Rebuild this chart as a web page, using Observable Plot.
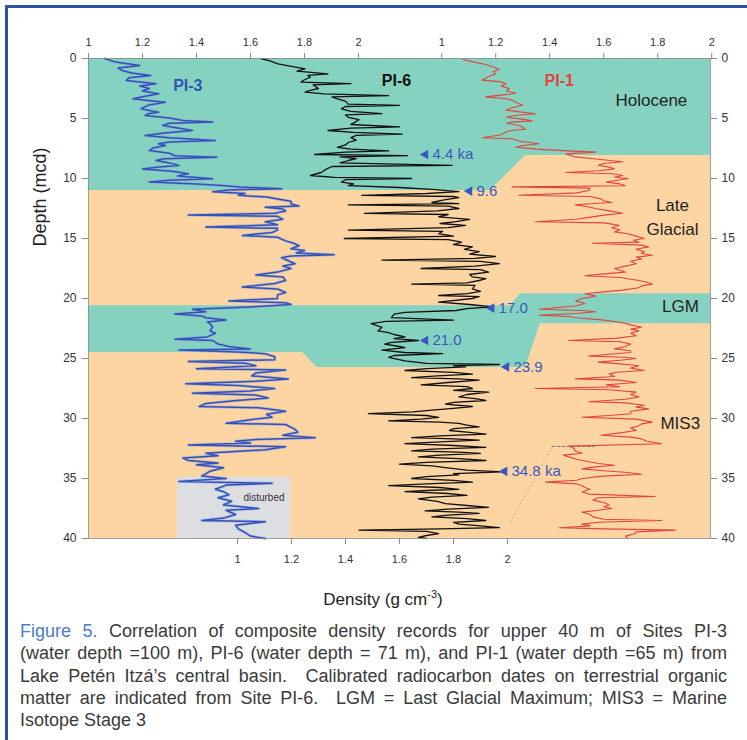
<!DOCTYPE html>
<html><head><meta charset="utf-8">
<script src="https://cdn.jsdelivr.net/npm/d3@7"></script>
<script src="https://cdn.jsdelivr.net/npm/@observablehq/plot@0.6"></script>
<style>
html,body{margin:0;padding:0;background:#fff;}
body{width:747px;height:740px;overflow:hidden;position:relative;font-family:"Liberation Sans",Arial,sans-serif;}
#border{position:absolute;left:5px;top:5px;width:900px;height:900px;border-left:3px solid #2c52a4;border-top:3px solid #2c52a4;}
#chart{position:absolute;left:0;top:0;}
#xlabel{position:absolute;left:0;width:766px;top:588px;text-align:center;font-family:"Liberation Sans",Arial,sans-serif;font-size:17px;color:#222;}
#xlabel sup{font-size:11px;}
#cap{position:absolute;left:20px;top:620px;width:707px;font-family:"Liberation Sans",Arial,sans-serif;font-size:18px;line-height:22.3px;color:#3a3a3a;}
#cap .j{text-align:justify;text-align-last:justify;}
#cap .fig{color:#4a7ccc;}
</style></head>
<body>
<div id="border"></div>
<div id="chart"></div>
<div id="xlabel">Density (g cm<sup>-3</sup>)</div>
<div id="cap">
<div class="j"><span class="fig">Figure 5.</span> Correlation of composite density records for upper 40 m of Sites PI-3</div>
<div class="j">(water depth =100 m), PI-6 (water depth = 71 m), and PI-1 (water depth =65 m) from</div>
<div class="j">Lake Petén Itzá’s central basin.&nbsp; Calibrated radiocarbon dates on terrestrial organic</div>
<div class="j">matter are indicated from Site PI-6.&nbsp; LGM = Last Glacial Maximum; MIS3 = Marine</div>
<div>Isotope Stage 3</div>
</div>
<script>
// ---------- data: [depth (mcd), density (g cm-3)] ----------
const pi3 = [[0.0,1.06],[0.3,1.10],[0.58,1.19],[0.8,1.11],[1.0,1.125],[1.2,1.16],[1.42,1.23],[1.6,1.15],[1.83,1.14],[2.1,1.25],[2.3,1.19],[2.5,1.225],[2.7,1.20],[2.94,1.26],[3.15,1.21],[3.36,1.165],[3.5,1.22],[3.64,1.285],[3.9,1.22],[4.19,1.195],[4.35,1.23],[4.47,1.26],[4.6,1.22],[4.75,1.21],[4.95,1.30],[5.17,1.35],[5.3,1.46],[5.4,1.30],[5.58,1.275],[5.8,1.33],[6.0,1.385],[6.2,1.28],[6.42,1.21],[6.6,1.30],[6.83,1.47],[6.95,1.30],[7.1,1.26],[7.25,1.285],[7.45,1.24],[7.67,1.225],[7.9,1.30],[8.1,1.32],[8.22,1.475],[8.35,1.28],[8.5,1.25],[8.7,1.30],[8.92,1.335],[9.05,1.26],[9.2,1.20],[9.4,1.31],[9.6,1.37],[9.8,1.33],[10.03,1.46],[10.15,1.30],[10.3,1.225],[10.45,1.40],[10.58,1.495],[10.7,1.56],[10.86,1.715],[10.95,1.52],[11.1,1.46],[11.25,1.58],[11.4,1.555],[11.55,1.66],[11.7,1.70],[11.9,1.75],[12.1,1.75],[12.3,1.78],[12.4,1.655],[12.55,1.72],[12.7,1.73],[12.9,1.69],[13.05,1.37],[13.15,1.70],[13.4,1.72],[13.6,1.655],[13.85,1.70],[14.05,1.435],[14.15,1.70],[14.3,1.70],[14.5,1.68],[14.75,1.57],[14.9,1.70],[15.2,1.73],[15.4,1.76],[15.6,1.78],[15.85,1.75],[16.0,1.80],[16.2,1.77],[16.35,1.91],[16.45,1.75],[16.6,1.715],[16.85,1.74],[17.1,1.765],[17.3,1.72],[17.5,1.75],[17.8,1.70],[18.05,1.62],[18.2,1.72],[18.5,1.73],[18.75,1.69],[19.05,1.57],[19.2,1.70],[19.5,1.73],[19.7,1.70],[20.0,1.70],[20.2,1.52],[20.35,1.73],[20.5,1.75],[20.7,1.60],[20.9,1.385],[21.1,1.435],[21.3,1.32],[21.45,1.42],[21.6,1.435],[21.8,1.51],[21.95,1.44],[22.1,1.45],[22.4,1.46],[22.7,1.45],[22.9,1.47],[23.2,1.44],[23.4,1.32],[23.5,1.46],[23.8,1.48],[24.0,1.52],[24.2,1.60],[24.3,1.335],[24.45,1.55],[24.6,1.655],[24.85,1.69],[25.1,1.69],[25.25,1.37],[25.4,1.58],[25.6,1.62],[25.85,1.40],[25.95,1.73],[26.2,1.62],[26.45,1.605],[26.7,1.74],[26.9,1.62],[27.1,1.36],[27.25,1.555],[27.5,1.69],[27.7,1.60],[27.9,1.385],[28.05,1.62],[28.3,1.665],[28.5,1.55],[28.75,1.435],[29.0,1.41],[29.1,1.63],[29.4,1.73],[29.65,1.66],[29.9,1.68],[30.1,1.60],[30.4,1.51],[30.5,1.73],[30.9,1.765],[31.15,1.775],[31.4,1.72],[31.6,1.84],[31.75,1.62],[31.9,1.545],[32.05,1.60],[32.2,1.37],[32.35,1.73],[32.6,1.655],[32.9,1.435],[33.1,1.48],[33.3,1.35],[33.5,1.37],[33.7,1.48],[33.85,1.40],[34.1,1.50],[34.4,1.45],[34.8,1.42],[35.0,1.51],[35.25,1.335],[35.4,1.68],[35.55,1.51],[35.9,1.47],[36.1,1.50],[36.35,1.52],[36.6,1.48],[36.9,1.53],[37.2,1.50],[37.5,1.63],[37.65,1.51],[38.0,1.545],[38.3,1.50],[38.5,1.42],[38.6,1.655],[38.9,1.545],[39.2,1.555],[39.5,1.58],[39.8,1.60],[40.0,1.655]];

const pi6 = [[0.0,1.086],[0.2,1.12],[0.44,1.15],[0.65,1.20],[0.86,1.25],[1.05,1.22],[1.28,1.335],[1.4,1.26],[1.56,1.27],[1.75,1.25],[1.97,1.235],[2.1,1.42],[2.2,1.28],[2.5,1.30],[2.65,1.27],[2.8,1.25],[2.95,1.32],[3.1,1.56],[3.2,1.35],[3.36,1.37],[3.55,1.40],[3.8,1.41],[3.9,1.60],[4.0,1.40],[4.2,1.385],[4.4,1.42],[4.6,1.535],[4.7,1.40],[4.9,1.41],[5.1,1.45],[5.3,1.435],[5.5,1.42],[5.7,1.60],[5.8,1.42],[6.0,1.335],[6.15,1.43],[6.3,1.61],[6.4,1.44],[6.6,1.42],[6.8,1.44],[7.0,1.41],[7.2,1.40],[7.4,1.37],[7.55,1.42],[7.7,1.56],[7.8,1.40],[8.0,1.285],[8.1,1.63],[8.2,1.38],[8.35,1.44],[8.5,1.41],[8.7,1.38],[8.9,1.795],[9.0,1.35],[9.2,1.33],[9.5,1.31],[9.75,1.27],[9.9,1.36],[10.0,1.645],[10.1,1.40],[10.3,1.385],[10.45,1.43],[10.6,1.41],[10.75,1.60],[10.9,1.72],[11.1,1.82],[11.25,1.70],[11.4,1.46],[11.5,1.80],[11.6,1.82],[11.8,1.76],[12.0,1.72],[12.1,1.82],[12.2,1.41],[12.3,1.78],[12.5,1.82],[12.7,1.74],[12.9,1.47],[13.0,1.78],[13.2,1.745],[13.4,1.86],[13.6,1.81],[13.75,1.75],[13.9,1.845],[14.1,1.78],[14.3,1.41],[14.4,1.76],[14.6,1.745],[14.8,1.80],[15.0,1.395],[15.1,1.78],[15.3,1.83],[15.5,1.80],[15.7,1.87],[15.9,1.84],[16.1,1.895],[16.3,1.86],[16.5,1.955],[16.65,1.88],[16.8,1.535],[16.9,1.90],[17.1,1.97],[17.3,1.88],[17.5,1.68],[17.6,1.90],[17.8,1.93],[18.0,1.86],[18.2,1.87],[18.35,1.92],[18.5,1.895],[18.7,1.85],[18.8,1.645],[18.9,1.88],[19.2,1.87],[19.4,1.90],[19.6,1.85],[19.75,1.745],[19.85,1.895],[20.0,1.87],[20.3,1.745],[20.5,1.86],[20.7,1.945],[20.85,1.85],[21.0,1.81],[21.15,1.62],[21.3,1.58],[21.6,1.57],[21.8,1.80],[21.9,1.55],[22.1,1.495],[22.4,1.535],[22.7,1.52],[22.85,1.56],[23.0,1.58],[23.2,1.62],[23.35,1.58],[23.5,1.67],[23.65,1.57],[23.8,1.545],[24.0,1.60],[24.1,1.62],[24.3,1.535],[24.5,1.62],[24.6,1.76],[24.75,1.58],[24.9,1.56],[25.2,1.62],[25.4,1.70],[25.5,1.97],[25.6,1.80],[25.7,1.845],[25.85,1.70],[26.0,1.62],[26.15,1.80],[26.3,1.87],[26.45,1.74],[26.6,1.645],[26.7,1.82],[26.8,1.895],[27.0,1.78],[27.2,1.68],[27.35,1.85],[27.5,1.87],[27.65,1.80],[27.8,1.93],[28.0,1.85],[28.2,1.82],[28.35,1.88],[28.5,1.92],[28.65,1.80],[28.8,1.77],[29.0,1.87],[29.15,1.80],[29.3,1.72],[29.45,1.65],[29.6,1.485],[29.75,1.70],[29.9,1.745],[30.05,1.68],[30.2,1.56],[30.3,1.75],[30.4,1.82],[30.55,1.85],[30.7,1.895],[30.85,1.80],[31.0,1.785],[31.15,1.86],[31.3,1.92],[31.45,1.75],[31.6,1.645],[31.7,1.80],[31.8,1.895],[31.95,1.75],[32.1,1.62],[32.25,1.80],[32.4,1.92],[32.55,1.72],[32.7,1.645],[32.8,1.82],[32.9,1.90],[33.05,1.75],[33.2,1.67],[33.35,1.82],[33.5,1.92],[33.65,1.70],[33.8,1.60],[33.95,1.72],[34.1,1.77],[34.3,1.85],[34.45,1.98],[34.6,1.80],[34.7,1.82],[34.85,1.70],[35.0,1.645],[35.15,1.80],[35.3,1.87],[35.45,1.70],[35.6,1.56],[35.75,1.75],[35.9,1.82],[36.0,1.70],[36.1,1.62],[36.25,1.78],[36.4,1.85],[36.55,1.72],[36.7,1.67],[36.9,1.74],[37.1,1.77],[37.25,1.85],[37.4,1.93],[37.55,1.78],[37.7,1.695],[37.8,1.82],[37.9,1.895],[38.05,1.78],[38.2,1.72],[38.35,1.85],[38.5,1.92],[38.65,1.80],[38.8,1.82],[38.95,1.90],[39.1,1.97],[39.2,1.75],[39.3,1.45],[39.4,1.70],[39.6,1.745],[39.75,1.70],[39.9,1.67],[40.0,1.70]];

const pi1 = [[0.08,1.078],[0.3,1.12],[0.5,1.163],[0.7,1.19],[0.9,1.213],[1.1,1.19],[1.3,1.20],[1.55,1.17],[1.8,1.15],[1.95,1.22],[2.1,1.238],[2.3,1.22],[2.5,1.25],[2.7,1.24],[2.9,1.274],[3.05,1.22],[3.2,1.163],[3.35,1.24],[3.5,1.262],[3.7,1.28],[3.9,1.30],[4.1,1.26],[4.3,1.238],[4.45,1.29],[4.6,1.347],[4.75,1.27],[4.9,1.24],[5.05,1.30],[5.2,1.335],[5.3,1.26],[5.4,1.24],[5.6,1.29],[5.9,1.31],[6.0,1.26],[6.1,1.24],[6.35,1.22],[6.6,1.15],[6.7,1.265],[6.9,1.29],[7.1,1.36],[7.25,1.30],[7.4,1.274],[7.55,1.35],[7.7,1.47],[7.8,1.57],[7.95,1.46],[8.2,1.495],[8.4,1.58],[8.6,1.67],[8.75,1.60],[8.9,1.58],[9.05,1.62],[9.2,1.64],[9.35,1.58],[9.5,1.46],[9.6,1.63],[9.75,1.67],[9.9,1.64],[10.0,1.69],[10.15,1.65],[10.3,1.61],[10.45,1.66],[10.6,1.68],[10.7,1.26],[10.8,1.55],[11.0,1.545],[11.2,1.50],[11.4,1.285],[11.5,1.55],[11.7,1.59],[11.85,1.60],[12.0,1.63],[12.1,1.55],[12.2,1.495],[12.35,1.54],[12.5,1.57],[12.7,1.62],[12.9,1.67],[13.05,1.60],[13.2,1.557],[13.4,1.50],[13.6,1.347],[13.7,1.60],[13.9,1.657],[14.1,1.63],[14.3,1.66],[14.45,1.64],[14.6,1.69],[14.8,1.72],[15.0,1.75],[15.15,1.71],[15.3,1.73],[15.4,1.557],[15.55,1.74],[15.7,1.766],[15.9,1.72],[16.1,1.75],[16.25,1.74],[16.4,1.78],[16.55,1.72],[16.7,1.74],[16.9,1.70],[17.1,1.72],[17.3,1.68],[17.5,1.64],[17.65,1.66],[17.8,1.68],[17.95,1.60],[18.1,1.53],[18.25,1.66],[18.5,1.73],[18.65,1.76],[18.8,1.78],[18.95,1.74],[19.1,1.73],[19.3,1.668],[19.45,1.60],[19.6,1.53],[19.8,1.57],[20.0,1.52],[20.2,1.495],[20.4,1.53],[20.6,1.50],[20.9,1.36],[21.0,1.52],[21.1,1.57],[21.25,1.50],[21.4,1.36],[21.5,1.47],[21.6,1.50],[21.8,1.60],[22.0,1.668],[22.2,1.70],[22.4,1.74],[22.55,1.70],[22.7,1.73],[22.9,1.70],[23.1,1.72],[23.3,1.65],[23.5,1.47],[23.6,1.66],[23.8,1.70],[24.0,1.68],[24.2,1.64],[24.35,1.70],[24.5,1.70],[24.65,1.62],[24.8,1.545],[24.9,1.68],[25.0,1.72],[25.15,1.66],[25.3,1.58],[25.45,1.66],[25.6,1.73],[25.8,1.70],[26.0,1.75],[26.15,1.65],[26.3,1.62],[26.5,1.64],[26.7,1.495],[26.8,1.66],[27.0,1.72],[27.1,1.66],[27.2,1.61],[27.35,1.66],[27.5,1.347],[27.6,1.62],[27.8,1.72],[28.0,1.70],[28.2,1.73],[28.4,1.68],[28.6,1.545],[28.7,1.68],[28.9,1.75],[29.05,1.72],[29.2,1.766],[29.4,1.70],[29.6,1.70],[29.75,1.62],[29.9,1.52],[30.05,1.72],[30.3,1.78],[30.45,1.74],[30.6,1.73],[30.8,1.70],[31.0,1.72],[31.2,1.66],[31.4,1.59],[31.55,1.70],[31.7,1.74],[31.9,1.76],[32.1,1.815],[32.3,1.47],[32.5,1.49],[32.7,1.495],[32.9,1.52],[33.05,1.45],[33.2,1.47],[33.4,1.50],[33.6,1.545],[33.75,1.58],[33.9,1.64],[34.05,1.56],[34.2,1.52],[34.35,1.60],[34.5,1.69],[34.65,1.74],[34.8,1.60],[35.0,1.52],[35.15,1.50],[35.3,1.385],[35.45,1.50],[35.6,1.52],[35.75,1.53],[35.9,1.55],[36.1,1.52],[36.3,1.545],[36.5,1.79],[36.6,1.58],[36.8,1.56],[37.0,1.60],[37.2,1.62],[37.35,1.60],[37.5,1.63],[37.65,1.58],[37.8,1.52],[38.0,1.55],[38.2,1.56],[38.4,1.60],[38.5,1.815],[38.65,1.58],[38.8,1.52],[38.95,1.55],[39.1,1.435],[39.2,1.60],[39.3,1.865],[39.45,1.72],[39.6,1.716],[39.8,1.68],[40.0,1.69]];

// each record is plotted on its own density axis: offsets onto the shared (PI-6) axis
const pi3Offset = -0.552;
const pi1Offset = 0.7565;
const densityTicks = [1, 1.2, 1.4, 1.6, 1.8, 2];
const depthTicks = [0, 5, 10, 15, 20, 25, 30, 35, 40];

// zones: [x on shared axis, top depth, bottom depth]
const holoceneZone = [[0.448,0,11.0],[1.937,0,11.0],[2.067,0,8.08],[2.752,0,8.08]];
const lgmZone = [[0.448,20.6,24.5],[1.241,20.6,24.5],[1.296,20.6,25.75],[2.011,20.6,25.75],[2.048,19.6,25.75],[2.067,19.6,25.75],[2.122,19.6,22.1],[2.752,19.6,22.1]];
// disturbed interval at PI-3: [density from, density to, depth top, depth bottom]
const disturbed = [[1.33, 1.748, 34.9, 40]];

// labels
const recordNames = ["PI-3", "PI-6", "PI-1"];
const recordLabelX = [1.368, 1.589, 1.435];     // in each record's own density
const recordLabelDepth = [2.25, 1.9, 1.9];
const recordColors = ["#3352b8", "#111111", "#e0463c"];
const zoneNames = ["Holocene", "Late", "Glacial", "LGM", "MIS3"];
const zoneLabelX = [2.533, 2.611, 2.611, 2.641, 2.64];
const zoneLabelDepth = [3.5, 12.25, 14.25, 20.7, 30.4];
const dateLabels = ["4.4 ka", "9.6", "17.0", "21.0", "23.9", "34.8 ka"];
const dateDensity = [1.696, 1.859, 1.941, 1.696, 1.996, 1.989];
const dateDepth = [8.0, 11.05, 20.8, 23.5, 25.7, 34.4];
// dashed correlation guide at PI-1 (PI-1 density, depth)
const guideH = [[1.409, 32.33], [1.565, 32.33]];
const guideD = [[1.409, 32.4], [1.25, 38.75]];

// ---------- build ----------
const rows = (arr, off) => arr.map(([d, v]) => ({depth: d, x: v + off}));
const teal = "#86d2c1", peach = "#fcd5a2";
const sans = "'Liberation Sans',Arial,sans-serif";
const fmtBack = off => t => String(Math.round((t - off) * 10) / 10);
const zoneRows = z => z.map(([x, a, b]) => ({x, a, b}));

const chart = Plot.plot({
  width: 747, height: 580,
  marginTop: 58, marginBottom: 42, marginLeft: 88, marginRight: 37,
  x: {domain: [0.448, 2.752]},
  y: {domain: [0, 40], reverse: true},
  style: {fontFamily: sans, fontSize: "11px", color: "#333", background: "transparent"},
  marks: [
    Plot.frame({fill: peach, stroke: null}),
    Plot.areaY(zoneRows(holoceneZone), {x: "x", y1: "a", y2: "b", fill: teal}),
    Plot.areaY(zoneRows(lgmZone), {x: "x", y1: "a", y2: "b", fill: teal}),
    Plot.rect(disturbed, {x1: d => d[0] + pi3Offset, x2: d => d[1] + pi3Offset, y1: d => d[2], y2: d => d[3], fill: "#dcdee2"}),
    Plot.text(["disturbed"], {x: 1.65 + pi3Offset, y: 36.6, text: d => d, fontSize: 10, fill: "#333"}),
    Plot.line(guideH, {x: d => d[0] + pi1Offset, y: d => d[1], stroke: "#666", strokeWidth: 0.8, strokeDasharray: "3,2"}),
    Plot.line(guideD, {x: d => d[0] + pi1Offset, y: d => d[1], stroke: "#999", strokeWidth: 0.8, strokeDasharray: "1,3"}),
    Plot.line(rows(pi3, pi3Offset), {x: "x", y: "depth", stroke: "#8aa0e0", strokeWidth: 3, strokeOpacity: 0.5}),
    Plot.line(rows(pi3, pi3Offset), {x: "x", y: "depth", stroke: recordColors[0], strokeWidth: 1.5}),
    Plot.line(rows(pi6, 0), {x: "x", y: "depth", stroke: recordColors[1], strokeWidth: 1.3}),
    Plot.line(rows(pi1, pi1Offset), {x: "x", y: "depth", stroke: recordColors[2], strokeWidth: 1.1}),
    Plot.frame({stroke: "#8c8c8c", strokeWidth: 0.8}),
    // axes
    Plot.axisY(depthTicks, {anchor: "left", tickSize: 6, tickPadding: 6, label: null, fontSize: 12, stroke: "#888"}),
    Plot.axisY(depthTicks, {anchor: "right", tickSize: 6, tickPadding: 5, label: null, fontSize: 12, stroke: "#888"}),
    Plot.axisX(densityTicks.map(v => v + pi3Offset), {anchor: "top", tickSize: 6, tickPadding: 7, label: null, tickFormat: fmtBack(pi3Offset), fontSize: 11, stroke: "#888"}),
    Plot.axisX(densityTicks.map(v => v + pi1Offset), {anchor: "top", tickSize: 6, tickPadding: 7, label: null, tickFormat: fmtBack(pi1Offset), fontSize: 11, stroke: "#888"}),
    Plot.axisX(densityTicks, {anchor: "bottom", tickSize: 6, tickPadding: 11, label: null, tickFormat: fmtBack(0), fontSize: 11, stroke: "#888"}),
    Plot.text(["Depth (mcd)"], {frameAnchor: "left", text: d => d, rotate: -90, dx: -48, dy: -52, fontSize: 18, fill: "#222", fontFamily: sans}),
    // record names
    Plot.text(recordNames, {x: (d, i) => recordLabelX[i] + [pi3Offset, 0, pi1Offset][i], y: (d, i) => recordLabelDepth[i], text: d => d, fill: (d, i) => recordColors[i], fontSize: 16, fontWeight: "bold", fontFamily: sans}),
    // zone names
    Plot.text(zoneNames, {x: (d, i) => zoneLabelX[i], y: (d, i) => zoneLabelDepth[i], text: d => d, fill: "#222", fontSize: 17, fontFamily: sans}),
    // radiocarbon dates
    Plot.dot(dateLabels, {x: (d, i) => dateDensity[i], y: (d, i) => dateDepth[i], symbol: "triangle", r: 3.6, rotate: -90, fill: "#3a58c0", stroke: null}),
    Plot.text(dateLabels, {x: (d, i) => dateDensity[i], y: (d, i) => dateDepth[i], text: d => d, dx: 7, textAnchor: "start", fill: "#3a58c0", fontSize: 15, fontFamily: sans})
  ]
});
document.getElementById("chart").appendChild(chart);
</script>
</body></html>
